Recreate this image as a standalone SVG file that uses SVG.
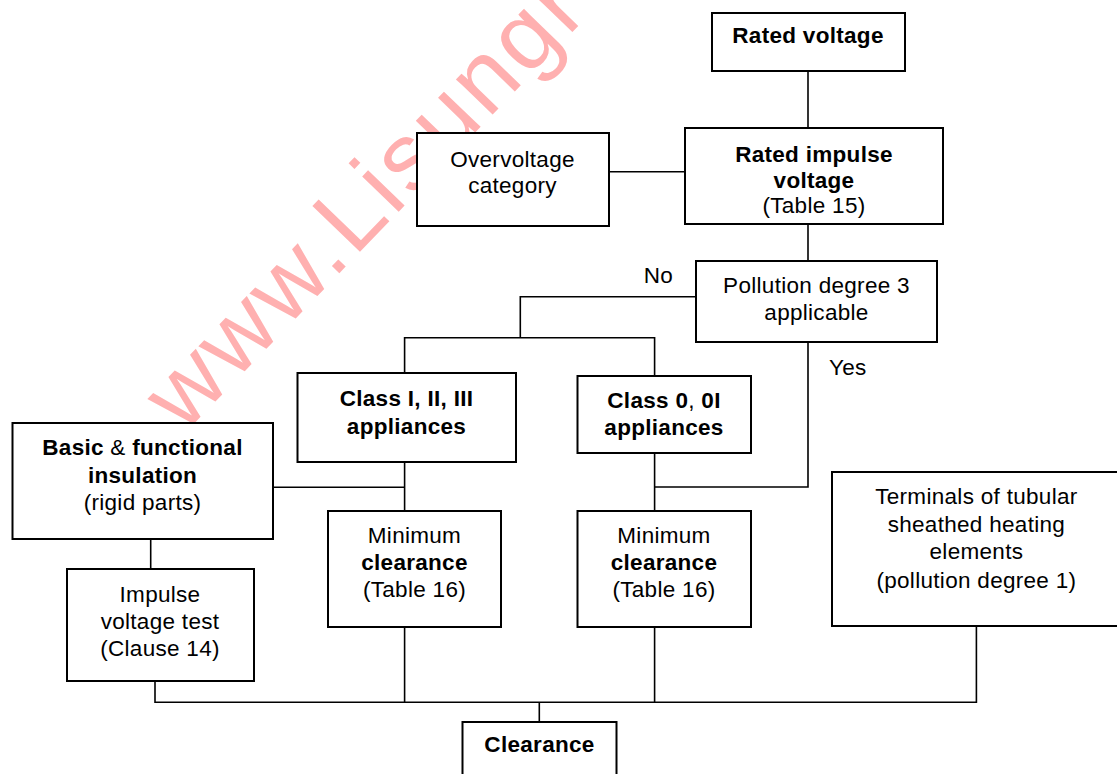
<svg xmlns="http://www.w3.org/2000/svg" width="1117" height="774" viewBox="0 0 1117 774">
<style>
.box{fill:#fff;stroke:#000;stroke-width:2}
.ln{fill:none;stroke:#000;stroke-width:1.6}
text{font-family:"Liberation Sans",Arial,sans-serif;font-size:22.5px;letter-spacing:0.3px;fill:#000}
.c{text-anchor:middle}
.b{font-weight:bold}
.wm{font-size:96px;letter-spacing:4px;fill:#ffb0b0}
</style>
<rect x="0" y="0" width="1117" height="774" fill="#fff"/>
<text class="wm" transform="translate(184,434) rotate(-46)">www.Lisungr</text>
<g id="connectors">
<line class="ln" x1="808" y1="71" x2="808" y2="128"/>
<line class="ln" x1="609" y1="171.7" x2="685" y2="171.7"/>
<line class="ln" x1="808" y1="224" x2="808" y2="261"/>
<polyline class="ln" points="696,296.7 520.3,296.7 520.3,337.7"/>
<polyline class="ln" points="404.6,373 404.6,337.7 654.6,337.7 654.6,376"/>
<polyline class="ln" points="808,342 808,487 654.6,487"/>
<line class="ln" x1="654.6" y1="453" x2="654.6" y2="511"/>
<line class="ln" x1="404.6" y1="462" x2="404.6" y2="511"/>
<line class="ln" x1="273" y1="487.3" x2="404.6" y2="487.3"/>
<line class="ln" x1="150.7" y1="539" x2="150.7" y2="569"/>
<line class="ln" x1="404.6" y1="627" x2="404.6" y2="702.3"/>
<line class="ln" x1="654.6" y1="627" x2="654.6" y2="702.3"/>
<polyline class="ln" points="155,682 155,702.3 976.4,702.3 976.4,626"/>
<line class="ln" x1="539.3" y1="702.3" x2="539.3" y2="722"/>
<text x="658.5" y="283" class="c">No</text>
<text x="829" y="375">Yes</text>
</g>
<g id="rated-voltage">
<rect class="box" x="712" y="13" width="193" height="58"/>
<text x="808" y="43.3" class="c b">Rated voltage</text>
</g>
<g id="rated-impulse">
<rect class="box" x="685" y="128" width="258" height="96"/>
<text x="814" y="161.7" class="c b">Rated impulse</text>
<text x="814" y="187.7" class="c b">voltage</text>
<text x="814" y="213.3" class="c">(Table 15)</text>
</g>
<g id="overvoltage">
<rect class="box" x="417" y="133" width="192" height="93"/>
<text x="512.5" y="167" class="c">Overvoltage</text>
<text x="512.5" y="193" class="c">category</text>
</g>
<g id="pollution">
<rect class="box" x="696" y="261" width="241" height="81"/>
<text x="816.5" y="293.3" class="c">Pollution degree 3</text>
<text x="816.5" y="319.5" class="c">applicable</text>
</g>
<g id="class-1">
<rect class="box" x="297.5" y="373" width="218.5" height="89"/>
<text x="406.5" y="405.5" class="c b">Class I, II, III</text>
<text x="406.5" y="434" class="c b">appliances</text>
</g>
<g id="class-0">
<rect class="box" x="577.5" y="376" width="173.5" height="77"/>
<text x="664" y="408.3" class="c"><tspan class="b">Class 0</tspan>, <tspan class="b">0I</tspan></text>
<text x="664" y="435" class="c b">appliances</text>
</g>
<g id="basic-insulation">
<rect class="box" x="12.5" y="423" width="260.5" height="116"/>
<text x="142.5" y="455" class="c"><tspan class="b">Basic</tspan> &amp; <tspan class="b">functional</tspan></text>
<text x="142.5" y="483.3" class="c b">insulation</text>
<text x="142.5" y="510" class="c">(rigid parts)</text>
</g>
<g id="min-clearance-1">
<rect class="box" x="328" y="511" width="173" height="116"/>
<text x="414.5" y="543.3" class="c">Minimum</text>
<text x="414.5" y="570" class="c b">clearance</text>
<text x="414.5" y="597.3" class="c">(Table 16)</text>
</g>
<g id="impulse-test">
<rect class="box" x="67" y="569" width="187" height="112"/>
<text x="160" y="601.7" class="c">Impulse</text>
<text x="160" y="629.3" class="c">voltage test</text>
<text x="160" y="656" class="c">(Clause 14)</text>
</g>
<g id="min-clearance-2">
<rect class="box" x="577.5" y="511" width="173.5" height="116"/>
<text x="664" y="543.3" class="c">Minimum</text>
<text x="664" y="570" class="c b">clearance</text>
<text x="664" y="597.3" class="c">(Table 16)</text>
</g>
<g id="terminals">
<rect class="box" x="832" y="472" width="290" height="154"/>
<text x="976.4" y="504" class="c">Terminals of tubular</text>
<text x="976.4" y="532.3" class="c">sheathed heating</text>
<text x="976.4" y="559.3" class="c">elements</text>
<text x="976.4" y="587.7" class="c">(pollution degree 1)</text>
</g>
<g id="clearance">
<rect class="box" x="462.5" y="722" width="154" height="70"/>
<text x="539.5" y="752.3" class="c b">Clearance</text>
</g>
</svg>
